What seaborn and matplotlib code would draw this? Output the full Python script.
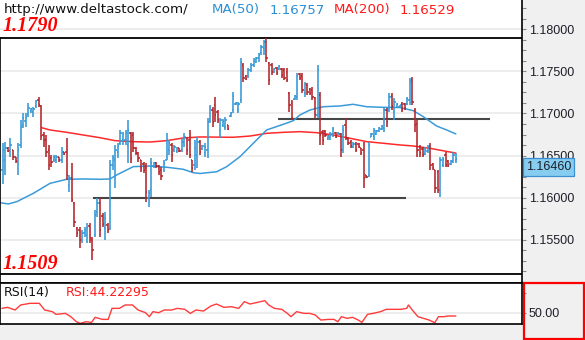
import numpy as np
import matplotlib
matplotlib.use("Agg")
import matplotlib.pyplot as plt
import matplotlib.transforms as mtransforms
from matplotlib.ticker import FixedLocator, MultipleLocator, FuncFormatter
from matplotlib.patches import Rectangle
import seaborn as sns

# ---- EUR/USD bars (oldest -> newest) ----
open_ = [
    1.1633, 1.1645, 1.1659, 1.1655, 1.1657, 1.1648, 1.1644, 1.1663, 1.1686, 1.1691,
    1.1699, 1.1703, 1.1702, 1.1709, 1.1716, 1.1709, 1.1674, 1.1668, 1.1657, 1.1647,
    1.1645, 1.1645, 1.1648, 1.1645, 1.1654, 1.1654, 1.1615, 1.1623, 1.1594, 1.1564,
    1.1562, 1.1550, 1.1558, 1.1556, 1.1566, 1.1550, 1.1556, 1.1583, 1.1594, 1.1578,
    1.1564, 1.1568, 1.1564, 1.1639, 1.1645, 1.1654, 1.1665, 1.1668, 1.1668, 1.1663,
    1.1677, 1.1674, 1.1659, 1.1653, 1.1645, 1.1640, 1.1635, 1.1600, 1.1609, 1.1638,
    1.1641, 1.1638, 1.1633, 1.1633, 1.1645, 1.1657, 1.1663, 1.1657, 1.1655, 1.1659,
    1.1657, 1.1666, 1.1671, 1.1668, 1.1645, 1.1639, 1.1651, 1.1666, 1.1658, 1.1653,
    1.1657, 1.1692, 1.1704, 1.1710, 1.1702, 1.1680, 1.1686, 1.1684, 1.1686, 1.1697,
    1.1704, 1.1711, 1.1704, 1.1716, 1.1758, 1.1745, 1.1745, 1.1752, 1.1758, 1.1761,
    1.1766, 1.1772, 1.1778, 1.1785, 1.1760, 1.1758, 1.1749, 1.1754, 1.1753, 1.1753,
    1.1752, 1.1749, 1.1724, 1.1712, 1.1717, 1.1720, 1.1747, 1.1745, 1.1724, 1.1734,
    1.1729, 1.1728, 1.1718, 1.1698, 1.1722, 1.1678, 1.1679, 1.1670, 1.1671, 1.1676,
    1.1677, 1.1674, 1.1676, 1.1657, 1.1686, 1.1671, 1.1666, 1.1660, 1.1664, 1.1664,
    1.1659, 1.1657, 1.1627, 1.1626, 1.1672, 1.1673, 1.1676, 1.1679, 1.1682, 1.1683,
    1.1704, 1.1704, 1.1721, 1.1702, 1.1708, 1.1708, 1.1711, 1.1711, 1.1711, 1.1716,
    1.1740, 1.1704, 1.1687, 1.1660, 1.1658, 1.1652, 1.1655, 1.1661, 1.1640, 1.1633,
    1.1630, 1.1609, 1.1639, 1.1651, 1.1644, 1.1640, 1.1644, 1.1645,
]
high = [
    1.1665, 1.1666, 1.1660, 1.1671, 1.1657, 1.1648, 1.1665, 1.1692, 1.1701, 1.1701,
    1.1712, 1.1707, 1.1708, 1.1716, 1.1720, 1.1710, 1.1678, 1.1674, 1.1663, 1.1651,
    1.1651, 1.1651, 1.1648, 1.1660, 1.1654, 1.1671, 1.1627, 1.1641, 1.1595, 1.1565,
    1.1565, 1.1562, 1.1565, 1.1570, 1.1570, 1.1553, 1.1585, 1.1600, 1.1600, 1.1582,
    1.1583, 1.1570, 1.1645, 1.1651, 1.1663, 1.1665, 1.1680, 1.1678, 1.1680, 1.1692,
    1.1678, 1.1678, 1.1660, 1.1654, 1.1645, 1.1642, 1.1641, 1.1609, 1.1647, 1.1642,
    1.1642, 1.1639, 1.1636, 1.1645, 1.1677, 1.1668, 1.1665, 1.1663, 1.1660, 1.1659,
    1.1671, 1.1677, 1.1672, 1.1680, 1.1645, 1.1668, 1.1672, 1.1668, 1.1663, 1.1665,
    1.1695, 1.1710, 1.1708, 1.1720, 1.1704, 1.1695, 1.1693, 1.1696, 1.1686, 1.1702,
    1.1726, 1.1714, 1.1714, 1.1766, 1.1760, 1.1746, 1.1754, 1.1760, 1.1766, 1.1767,
    1.1772, 1.1781, 1.1787, 1.1790, 1.1761, 1.1760, 1.1754, 1.1755, 1.1758, 1.1754,
    1.1754, 1.1754, 1.1726, 1.1716, 1.1722, 1.1748, 1.1748, 1.1748, 1.1737, 1.1736,
    1.1730, 1.1731, 1.1720, 1.1758, 1.1726, 1.1680, 1.1680, 1.1674, 1.1678, 1.1684,
    1.1678, 1.1678, 1.1677, 1.1686, 1.1695, 1.1672, 1.1668, 1.1666, 1.1666, 1.1665,
    1.1659, 1.1666, 1.1627, 1.1666, 1.1677, 1.1683, 1.1680, 1.1684, 1.1686, 1.1708,
    1.1707, 1.1724, 1.1724, 1.1718, 1.1712, 1.1710, 1.1714, 1.1712, 1.1720, 1.1742,
    1.1743, 1.1707, 1.1692, 1.1663, 1.1660, 1.1660, 1.1663, 1.1665, 1.1641, 1.1633,
    1.1633, 1.1648, 1.1648, 1.1654, 1.1645, 1.1645, 1.1654, 1.1653,
]
low = [
    1.1616, 1.1627, 1.1654, 1.1648, 1.1645, 1.1641, 1.1627, 1.1659, 1.1683, 1.1684,
    1.1696, 1.1701, 1.1696, 1.1707, 1.1708, 1.1668, 1.1660, 1.1648, 1.1633, 1.1636,
    1.1642, 1.1641, 1.1642, 1.1641, 1.1651, 1.1621, 1.1607, 1.1595, 1.1565, 1.1553,
    1.1540, 1.1546, 1.1553, 1.1546, 1.1546, 1.1526, 1.1553, 1.1577, 1.1553, 1.1565,
    1.1550, 1.1558, 1.1562, 1.1633, 1.1611, 1.1647, 1.1663, 1.1663, 1.1663, 1.1641,
    1.1641, 1.1654, 1.1651, 1.1642, 1.1630, 1.1629, 1.1595, 1.1589, 1.1601, 1.1635,
    1.1635, 1.1627, 1.1621, 1.1630, 1.1645, 1.1651, 1.1642, 1.1654, 1.1653, 1.1654,
    1.1654, 1.1660, 1.1651, 1.1647, 1.1630, 1.1633, 1.1635, 1.1651, 1.1657, 1.1648,
    1.1647, 1.1689, 1.1684, 1.1690, 1.1689, 1.1671, 1.1684, 1.1680, 1.1680, 1.1696,
    1.1701, 1.1710, 1.1701, 1.1712, 1.1737, 1.1740, 1.1742, 1.1749, 1.1755, 1.1760,
    1.1761, 1.1769, 1.1769, 1.1761, 1.1734, 1.1746, 1.1748, 1.1746, 1.1752, 1.1742,
    1.1740, 1.1737, 1.1702, 1.1692, 1.1716, 1.1716, 1.1740, 1.1724, 1.1720, 1.1722,
    1.1722, 1.1716, 1.1695, 1.1695, 1.1663, 1.1663, 1.1672, 1.1668, 1.1668, 1.1672,
    1.1671, 1.1674, 1.1648, 1.1653, 1.1668, 1.1663, 1.1659, 1.1659, 1.1654, 1.1659,
    1.1651, 1.1611, 1.1623, 1.1625, 1.1672, 1.1668, 1.1674, 1.1678, 1.1680, 1.1678,
    1.1684, 1.1702, 1.1704, 1.1692, 1.1707, 1.1707, 1.1702, 1.1704, 1.1710, 1.1710,
    1.1710, 1.1678, 1.1648, 1.1648, 1.1648, 1.1651, 1.1653, 1.1633, 1.1633, 1.1606,
    1.1606, 1.1601, 1.1636, 1.1636, 1.1636, 1.1639, 1.1641, 1.1641,
]
close = [
    1.1657, 1.1659, 1.1655, 1.1663, 1.1648, 1.1644, 1.1657, 1.1684, 1.1695, 1.1696,
    1.1707, 1.1705, 1.1705, 1.1715, 1.1710, 1.1673, 1.1668, 1.1654, 1.1639, 1.1642,
    1.1648, 1.1648, 1.1645, 1.1654, 1.1652, 1.1627, 1.1623, 1.1597, 1.1571, 1.1558,
    1.1550, 1.1558, 1.1562, 1.1564, 1.1552, 1.1538, 1.1579, 1.1594, 1.1562, 1.1569,
    1.1576, 1.1562, 1.1639, 1.1647, 1.1657, 1.1661, 1.1677, 1.1676, 1.1677, 1.1680,
    1.1647, 1.1659, 1.1653, 1.1647, 1.1635, 1.1633, 1.1607, 1.1606, 1.1641, 1.1641,
    1.1638, 1.1630, 1.1626, 1.1641, 1.1668, 1.1665, 1.1651, 1.1660, 1.1659, 1.1655,
    1.1666, 1.1672, 1.1657, 1.1651, 1.1635, 1.1659, 1.1666, 1.1654, 1.1661, 1.1660,
    1.1690, 1.1707, 1.1690, 1.1698, 1.1692, 1.1692, 1.1691, 1.1692, 1.1682, 1.1701,
    1.1721, 1.1712, 1.1711, 1.1761, 1.1742, 1.1741, 1.1752, 1.1758, 1.1764, 1.1766,
    1.1769, 1.1779, 1.1785, 1.1766, 1.1740, 1.1749, 1.1753, 1.1748, 1.1756, 1.1746,
    1.1742, 1.1740, 1.1710, 1.1695, 1.1721, 1.1745, 1.1742, 1.1728, 1.1735, 1.1726,
    1.1724, 1.1720, 1.1698, 1.1752, 1.1674, 1.1668, 1.1674, 1.1673, 1.1676, 1.1682,
    1.1672, 1.1677, 1.1657, 1.1680, 1.1671, 1.1665, 1.1661, 1.1664, 1.1657, 1.1660,
    1.1653, 1.1623, 1.1625, 1.1663, 1.1676, 1.1680, 1.1679, 1.1683, 1.1685, 1.1704,
    1.1690, 1.1720, 1.1709, 1.1714, 1.1711, 1.1710, 1.1705, 1.1707, 1.1717, 1.1737,
    1.1714, 1.1686, 1.1657, 1.1653, 1.1651, 1.1658, 1.1660, 1.1639, 1.1635, 1.1611,
    1.1609, 1.1645, 1.1646, 1.1639, 1.1638, 1.1644, 1.1651, 1.1646,
]

# ---- moving averages (bar position, value) ----
ma50_pos = [-1.05, 2.2, 5.5, 12, 18.5, 25, 31.5, 38, 41.9, 44.5, 51, 57.5, 64.1,
            70.5, 74.5, 77.1, 83.6, 87.5, 92.7, 97.9, 103.1, 109.6, 113.5, 116.1,
            120, 125.2, 131.7, 136.9, 142.2, 148.7, 155.2, 160.4, 164.3, 169.5,
            173.4, 177]
ma50_val = [1.15940, 1.15925, 1.15952, 1.16052, 1.16170, 1.16218, 1.16222,
            1.16218, 1.16222, 1.16269, 1.16368, 1.16376, 1.16361, 1.16337,
            1.16296, 1.16287, 1.16308, 1.16368, 1.16487, 1.16646, 1.16804,
            1.16871, 1.16914, 1.16982, 1.17041, 1.17080, 1.17089, 1.17109,
            1.17080, 1.17073, 1.17071, 1.17033, 1.16962, 1.16851, 1.16804, 1.16757]
ma200_pos = [15.2, 18.5, 25, 31.5, 38, 43.9, 51, 57.5, 64.1, 70.5, 77.1, 90,
             96.6, 103.1, 109.6, 116.1, 122.6, 129.1, 135.7, 142.2, 148.7,
             155.2, 160.3, 166.9, 177]
ma200_val = [1.16831, 1.16804, 1.16776, 1.16744, 1.16712, 1.16677, 1.16665,
             1.16661, 1.16677, 1.16709, 1.16721, 1.16717, 1.16732, 1.16764,
             1.16776, 1.16784, 1.16772, 1.16744, 1.16705, 1.16665, 1.16646,
             1.16626, 1.16614, 1.16586, 1.16529]

# ---- RSI(14) ----
rsi_pos = [-0.3, 1.9, 4.8, 7.0, 10.6, 14.3, 16.4, 19.4, 20.8, 24.5, 26.6, 28.8,
           30.3, 32.5, 34.7, 36.1, 39.0, 41.2, 42.7, 45.6, 47.8, 50.7, 52.9,
           55.8, 57.3, 58.7, 60.9, 63.1, 66.0, 68.2, 71.1, 73.3, 75.5, 78.4,
           81.3, 83.5, 86.4, 89.3, 92.2, 94.4, 96.6, 99.5, 102.4, 103.9, 106.1,
           109.0, 111.2, 112.6, 114.8, 117.7, 120.0, 122.1, 124.3, 127.2, 129.4,
           130.9, 132.3, 134.5, 136.7, 138.9, 140.3, 142.5, 144.7, 147.6, 149.8,
           152.0, 155.6, 157.8, 158.5, 160.0, 162.2, 164.4, 166.6, 168.8, 170.2,
           172.4, 173.9, 177]
rsi_val = [57.6, 59.4, 54.7, 63.5, 66.4, 66.4, 54.7, 51.8, 47.1, 48.8, 43.0,
           34.2, 31.3, 34.2, 33.0, 41.8, 38.3, 38.3, 57.6, 57.6, 63.5, 63.5,
           54.7, 50.0, 43.0, 51.8, 50.0, 54.7, 54.7, 57.6, 55.9, 48.8, 54.7,
           52.9, 61.7, 65.2, 59.4, 60.5, 57.6, 69.3, 65.2, 68.1, 71.1, 63.5,
           57.6, 55.9, 48.8, 43.0, 51.8, 48.8, 48.8, 45.9, 37.1, 38.3, 38.3,
           34.2, 43.0, 40.1, 41.8, 37.1, 33.0, 47.1, 48.8, 51.8, 55.9, 55.9,
           55.9, 57.6, 63.5, 54.7, 43.0, 40.1, 37.1, 32.4, 43.0, 43.0, 44.2,
           44.22295]

# ---- horizontal levels ----
range_high = 1.1790
range_low = 1.1509
support_level, support_span = 1.1600, (35.4, 157.5)
resist_level, resist_span = 1.1694, (107.5, 190.4)
price_ticks = [1.155, 1.160, 1.165, 1.170, 1.175, 1.180]

UP = "#3598d6"
DOWN = "#b2262b"
MA50_C = "#3a9bd9"
MA200_C = "#ff2a2a"

sns.set_style("white")
plt.rcParams["font.family"] = ["DejaVu Sans"]

W, H = 585, 340
fig = plt.figure(figsize=(W / 100, H / 100), dpi=100, facecolor="#f0f0f0")


def box(x0, y0, x1, y1):
    return [x0 / W, 1 - y1 / H, (x1 - x0) / W, (y1 - y0) / H]


ax = fig.add_axes(box(0, 0, 522, 283))
rx = fig.add_axes(box(0, 283, 522, 324), sharex=ax)
for a in (ax, rx):
    a.set_facecolor("white")

o = np.array(open_)
h = np.array(high)
l = np.array(low)
c = np.array(close)
idx = np.arange(len(c))
cols = np.where(c >= o, UP, DOWN)

ax.set_xlim(-1.055, 202.85)
ax.set_ylim(1.14986, 1.18348)

# grid and price levels
for t in price_ticks:
    ax.axhline(t, color="#e8e8e8", lw=1.1, zorder=0)
ax.axhline(range_high, color="black", lw=1.3, zorder=1)
ax.axhline(range_low, color="black", lw=1.3, zorder=1)
ax.hlines(support_level, *support_span, color="#333333", lw=1.5, alpha=0.9, zorder=1)
ax.hlines(resist_level, *resist_span, color="#333333", lw=1.5, alpha=0.9, zorder=1)

# moving averages
sns.lineplot(x=ma200_pos, y=ma200_val, ax=ax, color=MA200_C, lw=1.1,
             sort=False, estimator=None, zorder=2)
sns.lineplot(x=ma50_pos, y=ma50_val, ax=ax, color=MA50_C, lw=1.1,
             sort=False, estimator=None, zorder=2)

# OHLC bars
ax.vlines(idx, l, h, colors=cols, lw=1.15, zorder=3)
ax.hlines(o, idx - 0.5, idx, colors=cols, lw=1.15, zorder=3)
ax.hlines(c, idx, idx + 0.5, colors=cols, lw=1.15, zorder=3)

ax.set_xticks([])
ax.set_xlabel("")
ax.set_ylabel("")
ax.yaxis.tick_right()
ax.yaxis.set_major_locator(FixedLocator(price_ticks))
ax.yaxis.set_minor_locator(MultipleLocator(0.00125))
ax.yaxis.set_major_formatter(FuncFormatter(lambda v, p: f"{v:.5f}"))
ax.tick_params(axis="y", which="both", direction="out", length=3, width=0.8,
               color="#8a8a8a", right=True, left=False, pad=2,
               labelsize=9, labelcolor="#1e1e28")
for lbl in ax.get_yticklabels():
    lbl.set_fontfamily("Liberation Sans")
ax.spines["top"].set_visible(False)
for s in ("left", "right", "bottom"):
    ax.spines[s].set_color("black")
    ax.spines[s].set_linewidth(1.2)
ax.spines["left"].set_bounds(1.14986, range_high)

# last price marker on the scale
tr = mtransforms.blended_transform_factory(ax.transAxes, ax.transData)
ax.annotate(f"{c[-1]:.5f}", xy=(1.0, c[-1]), xycoords=tr, xytext=(4, -8),
            textcoords="offset pixels", ha="left", va="center", fontsize=9,
            family="Liberation Sans", color="#1e1e28", annotation_clip=False,
            bbox=dict(boxstyle="square,pad=0.22", fc="#86cdf0", ec="#3b8fd1", lw=0.9),
            zorder=10)

# RSI panel
rx.axhline(50, color="#e8e8e8", lw=1.1, zorder=0)
sns.lineplot(x=rsi_pos, y=rsi_val, ax=rx, color="#ff3b3b", lw=1.0,
             sort=False, estimator=None)
rx.set_ylim(30.2, 102)
rx.set_xticks([])
rx.set_xlabel("")
rx.set_ylabel("")
rx.yaxis.tick_right()
rx.yaxis.set_major_locator(FixedLocator([50]))
rx.yaxis.set_minor_locator(FixedLocator([84, 22]))
rx.yaxis.set_major_formatter(FuncFormatter(lambda v, p: f"{v:.2f}"))
rx.tick_params(axis="y", which="both", direction="out", length=3, width=0.8,
               color="#8a8a8a", right=True, left=False, pad=2,
               labelsize=9, labelcolor="#1e1e28")
for lbl in rx.get_yticklabels():
    lbl.set_fontfamily("Liberation Sans")
for s in rx.spines.values():
    s.set_color("black")
    s.set_linewidth(1.2)


def ftext(x, y, s, **kw):
    fig.text(x / W, 1 - y / H, s, va="center", ha="left", **kw)


ftext(4, 10, "http://www.deltastock.com/", fontsize=9.6, color="#111111")
ftext(212, 10, "MA(50)", fontsize=9.6, color="#2b8fd4")
ftext(270, 10, f"{ma50_val[-1]:.5f}", fontsize=9.6, color="#2b8fd4")
ftext(334, 10, "MA(200)", fontsize=9.6, color="#ff1a1a")
ftext(400, 10, f"{ma200_val[-1]:.5f}", fontsize=9.6, color="#ff1a1a")

label_kw = dict(fontsize=14.5, color="#ff0000", family="Liberation Serif",
                weight="bold", style="italic")
ftext(3, 26, f"{range_high:.4f}", **label_kw)
ftext(3, 264, f"{range_low:.4f}", **label_kw)

ftext(4, 292.5, "RSI(14)", fontsize=9, color="#111111")
ftext(66, 292.5, f"RSI:{rsi_val[-1]:.5f}", fontsize=9, color="#ff1a1a")

fig.add_artist(Rectangle((523.5 / W, 1 - 339 / H), 60.5 / W, 56 / H,
                         transform=fig.transFigure, fill=False,
                         ec="#ff0000", lw=1.6))

fig.savefig("out.png", dpi=100, facecolor=fig.get_facecolor())
